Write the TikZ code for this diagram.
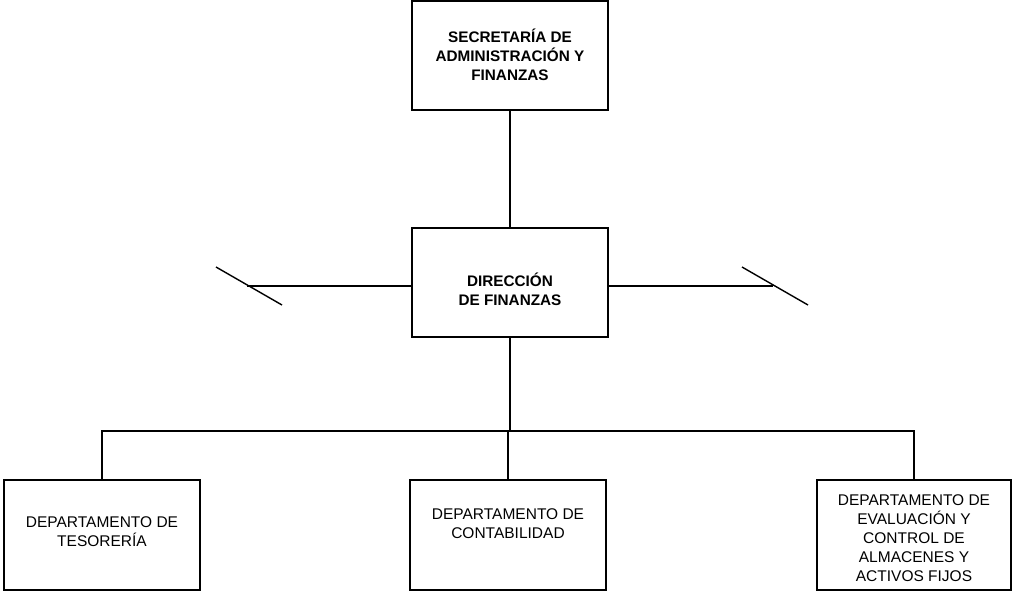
\documentclass[tikz,border=0pt]{standalone}
\usepackage{fontspec}
\setmainfont{Liberation Sans}
\begin{document}
\begin{tikzpicture}[x=1pt,y=-1pt,
  box/.style={draw, line width=1.7pt, rectangle, minimum width=196pt, minimum height=#1, inner sep=0pt},
  conn/.style={line width=1.4pt},
  txt/.style={align=center, inner sep=0pt, font=\fontsize{15.5}{19}\selectfont},
  btxt/.style={txt, font=\fontsize{15.3}{19}\selectfont\bfseries}]
\useasboundingbox (0,0) rectangle (1012,592);
% boxes
\node[box=109pt] (top) at (510,55.5) {};
\node[box=109pt] (mid) at (510,282.5) {};
\node[box=110pt] (b1) at (102,535) {};
\node[box=110pt] (b2) at (508,535) {};
\node[box=110pt, minimum width=194pt] (b3) at (914,535) {};
% texts
\node[btxt] (t0) at (510,55) {SECRETARÍA DE\\ADMINISTRACIÓN Y\\FINANZAS};
\node[btxt] (t1) at (510,289) {DIRECCIÓN\\DE FINANZAS};
\node[txt] (t2) at (102,532) {DEPARTAMENTO DE\\TESORERÍA};
\node[txt] (t3) at (508,524) {DEPARTAMENTO DE\\CONTABILIDAD};
\node[txt] (t4) at (914,538) {DEPARTAMENTO DE\\EVALUACIÓN Y\\CONTROL DE\\ALMACENES Y\\ACTIVOS FIJOS};
% coordinates
\coordinate (bus) at (510,431);
\coordinate (lend) at (247,286);
\coordinate (rend) at (773,286);
\coordinate (ls1) at (216,267);
\coordinate (ls2) at (282,305);
\coordinate (rs1) at (742,267);
\coordinate (rs2) at (808,305);
% connectors
\draw[conn] (top.south) -- (mid.north);
\draw[conn] (mid.west |- lend) -- (lend);
\draw[conn] (mid.east |- rend) -- (rend);
\draw[conn] (ls1) -- (ls2);
\draw[conn] (rs1) -- (rs2);
\draw[conn] (mid.south) -- (mid.south |- bus);
\draw[conn] (b1.north) -- (b1.north |- bus) -- (b3.north |- bus) -- (b3.north);
\draw[conn] (b2.north) -- (b2.north |- bus);
\end{tikzpicture}
\end{document}
